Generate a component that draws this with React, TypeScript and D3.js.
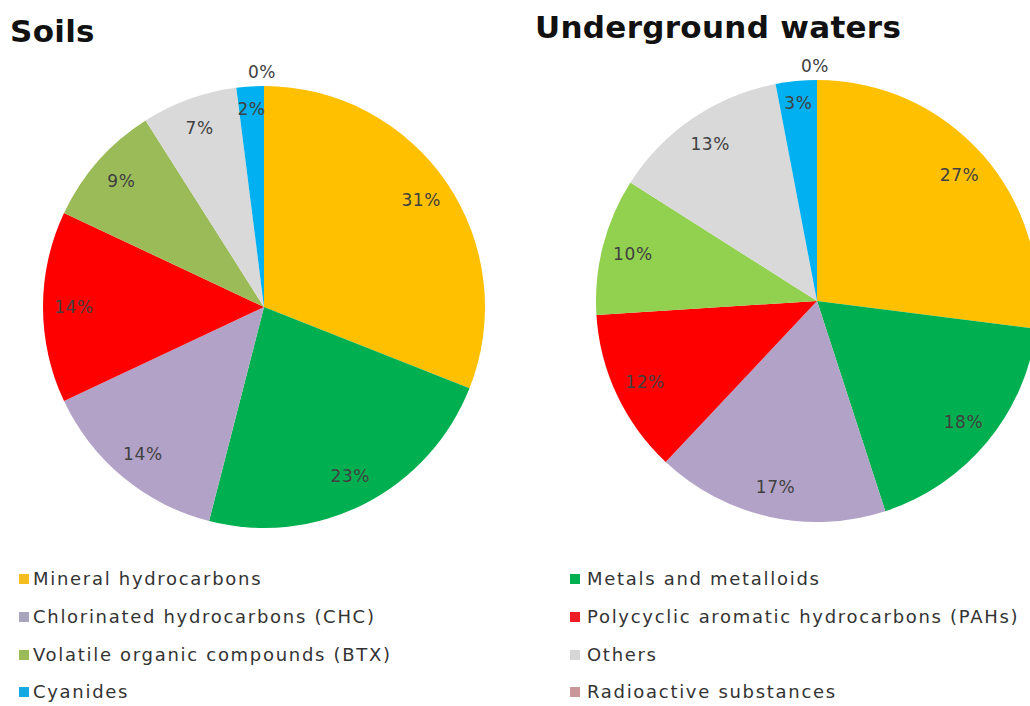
import React from "react";
import * as d3 from "d3";

const categories = [
  "Mineral hydrocarbons",
  "Metals and metalloids",
  "Chlorinated hydrocarbons (CHC)",
  "Polycyclic aromatic hydrocarbons (PAHs)",
  "Volatile organic compounds (BTX)",
  "Others",
  "Cyanides",
  "Radioactive substances",
];

const soilsValues = [31, 23, 14, 14, 9, 7, 2, 0];
const watersValues = [27, 18, 17, 12, 10, 13, 3, 0];

const soilsColors = ["#FFC000", "#00B050", "#B3A2C7", "#FF0000", "#9BBB59", "#D9D9D9", "#00B0F0", "#D99694"];
const watersColors = ["#FFC000", "#00B050", "#B3A2C7", "#FF0000", "#92D050", "#D9D9D9", "#00B0F0", "#D99694"];
const legendColors = ["#F5BE1E", "#00B050", "#A8A4BC", "#EE1C25", "#9BBB59", "#D6D6D6", "#14A9E0", "#C9969A"];

const titles = ["Soils", "Underground waters"];

const W = 1030;
const H = 706;
const R = 221;

interface PieProps {
  cx: number;
  cy: number;
  values: number[];
  colors: string[];
}

function Pie({ cx, cy, values, colors }: PieProps) {
  const pie = d3.pie<number>().sort(null).value((d) => d);
  const arcs = pie(values);
  const arc = d3.arc<d3.PieArcDatum<number>>().innerRadius(0).outerRadius(R);
  return (
    <g transform={`translate(${cx},${cy})`}>
      {arcs.map((a, i) => (
        <path key={i} d={arc(a) || ""} fill={colors[i]} />
      ))}
      {arcs.map((a, i) => {
        const mid = (a.startAngle + a.endAngle) / 2;
        const span = a.endAngle - a.startAngle;
        let lr = R * 0.86;
        if (a.data === 0) lr = R + 14;
        else if (span < 0.3) lr = R * 0.9;
        const x = Math.sin(mid) * lr;
        const y = -Math.cos(mid) * lr;
        return (
          <text
            key={"t" + i}
            x={a.data === 0 ? x - 2 : x}
            y={y}
            dy="0.36em"
            textAnchor="middle"
            fontFamily="DejaVu Sans, sans-serif"
            fontSize={17}
            letterSpacing={0.6}
            fill="#404040"
          >
            {a.data}%
          </text>
        );
      })}
    </g>
  );
}

export default function App() {
  const rowY = [579, 617, 655, 692];
  const colX = [19, 570];
  const textX = [33, 587];
  return (
    <div style={{ position: "fixed", left: 0, top: 0, width: W, height: H, background: "#fff" }}>
      <svg width={W} height={H} style={{ display: "block" }}>
        <rect width={W} height={H} fill="#ffffff" />
        <text x={10} y={42} fontFamily="DejaVu Sans, sans-serif" fontWeight="bold" fontSize={31} letterSpacing={0.3} fill="#111">
          {titles[0]}
        </text>
        <text x={535} y={38} fontFamily="DejaVu Sans, sans-serif" fontWeight="bold" fontSize={31} letterSpacing={0.3} fill="#111">
          {titles[1]}
        </text>
        <Pie cx={264} cy={307} values={soilsValues} colors={soilsColors} />
        <Pie cx={817} cy={301} values={watersValues} colors={watersColors} />
        {categories.map((c, i) => {
          const col = i % 2;
          const row = Math.floor(i / 2);
          const y = rowY[row];
          return (
            <g key={c}>
              <rect x={colX[col]} y={y - 5} width={10} height={10} fill={legendColors[i]} />
              <text
                x={textX[col]}
                y={y}
                dy="0.36em"
                fontFamily="DejaVu Sans, sans-serif"
                fontSize={18}
                letterSpacing={1.7}
                fill="#333"
              >
                {c}
              </text>
            </g>
          );
        })}
      </svg>
    </div>
  );
}
